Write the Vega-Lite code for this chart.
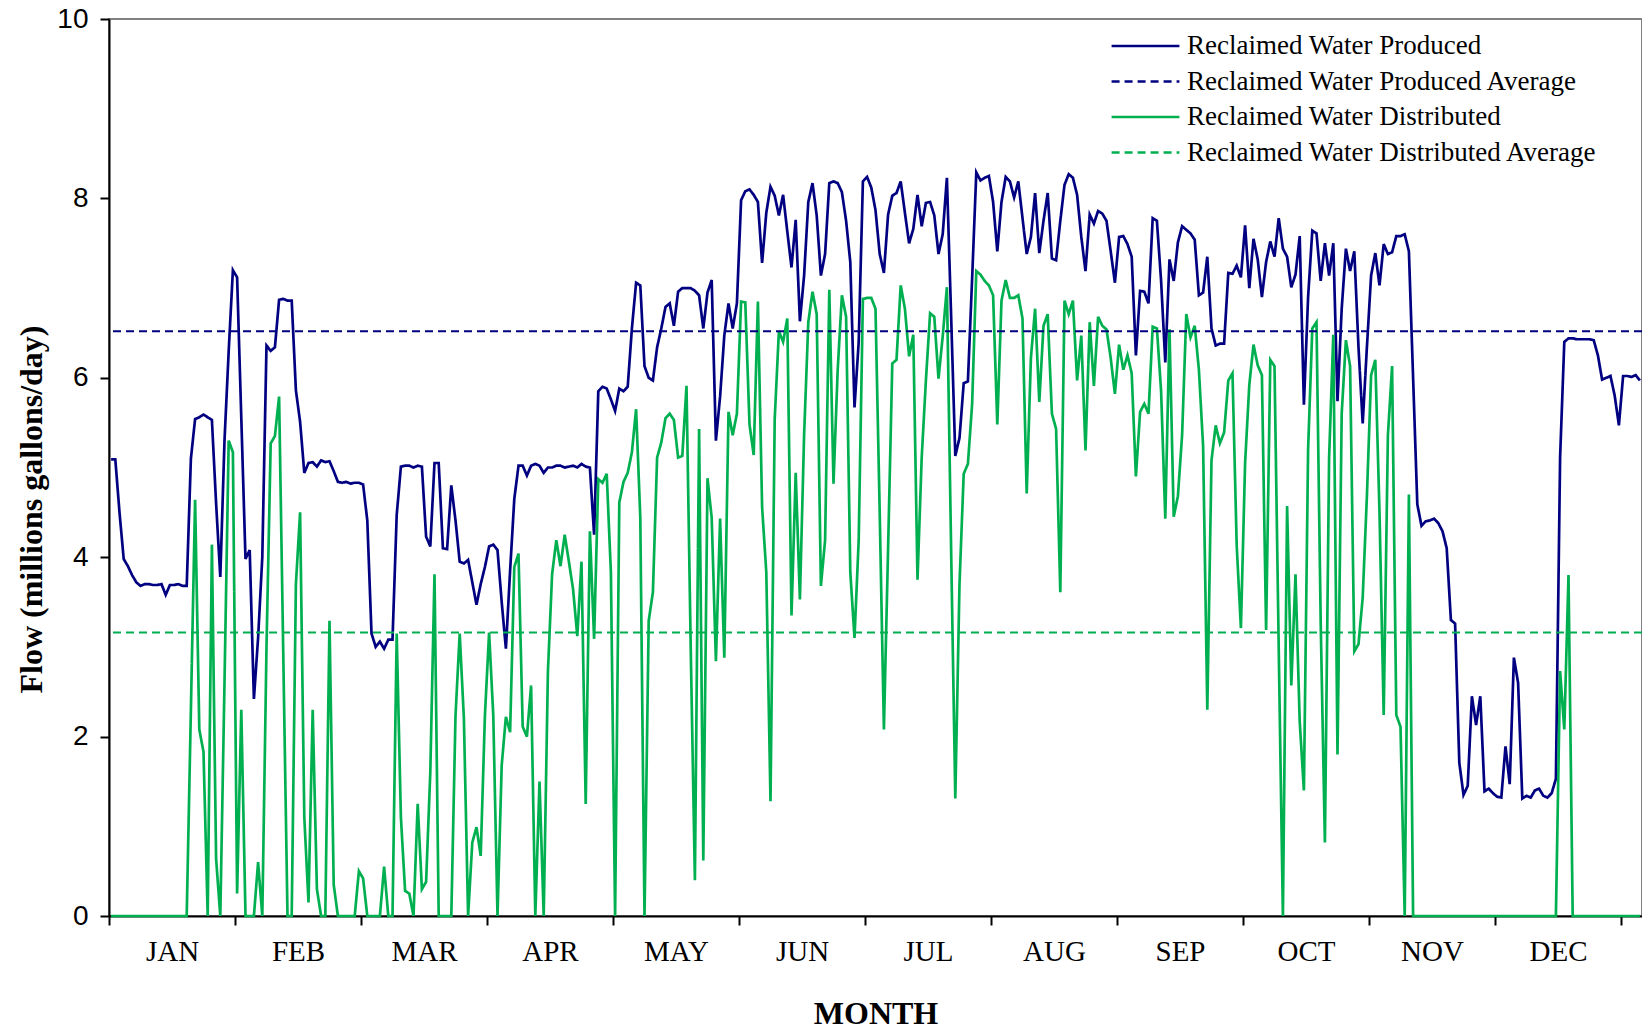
{
"$schema":"https://vega.github.io/schema/vega-lite/v6.json",
"width":1533,"height":897,
"autosize":{"type":"none"},
"padding":{"left":109,"top":19,"right":0,"bottom":115},
"background":"white",
"config":{"view":{"stroke":"#808080","strokeWidth":2},"font":"Liberation Serif"},
"layer":[
{"data":{"values":[
{"d":1,"p":5.09,"g":0},{"d":2,"p":5.09,"g":0},{"d":3,"p":4.5,"g":0},{"d":4,"p":3.98,"g":0},{"d":5,"p":3.9,"g":0},{"d":6,"p":3.8,"g":0},{"d":7,"p":3.72,"g":0},{"d":8,"p":3.68,"g":0},{"d":9,"p":3.7,"g":0},{"d":10,"p":3.7,"g":0},
{"d":11,"p":3.69,"g":0},{"d":12,"p":3.69,"g":0},{"d":13,"p":3.7,"g":0},{"d":14,"p":3.58,"g":0},{"d":15,"p":3.69,"g":0},{"d":16,"p":3.69,"g":0},{"d":17,"p":3.7,"g":0},{"d":18,"p":3.68,"g":0},{"d":19,"p":3.68,"g":0},{"d":20,"p":5.1,"g":2.3},
{"d":21,"p":5.54,"g":4.64},{"d":22,"p":5.56,"g":2.08},{"d":23,"p":5.59,"g":1.83},{"d":24,"p":5.56,"g":0},{"d":25,"p":5.53,"g":4.14},{"d":26,"p":4.6,"g":0.64},{"d":27,"p":3.78,"g":0},{"d":28,"p":5.3,"g":2.6},{"d":29,"p":6.3,"g":5.3},{"d":30,"p":7.2,"g":5.17},
{"d":31,"p":7.12,"g":0.25},{"d":32,"p":5.55,"g":2.3},{"d":33,"p":3.98,"g":0},{"d":34,"p":4.08,"g":0},{"d":35,"p":2.42,"g":0},{"d":36,"p":3.1,"g":0.6},{"d":37,"p":4.0,"g":0},{"d":38,"p":6.36,"g":3.0},{"d":39,"p":6.3,"g":5.27},{"d":40,"p":6.34,"g":5.35},
{"d":41,"p":6.87,"g":5.79},{"d":42,"p":6.88,"g":2.9},{"d":43,"p":6.86,"g":0},{"d":44,"p":6.86,"g":0},{"d":45,"p":5.86,"g":3.7},{"d":46,"p":5.51,"g":4.5},{"d":47,"p":4.94,"g":1.1},{"d":48,"p":5.05,"g":0.15},{"d":49,"p":5.06,"g":2.3},{"d":50,"p":5.01,"g":0.3},
{"d":51,"p":5.08,"g":0},{"d":52,"p":5.06,"g":0},{"d":53,"p":5.07,"g":3.29},{"d":54,"p":4.96,"g":0.35},{"d":55,"p":4.84,"g":0},{"d":56,"p":4.83,"g":0},{"d":57,"p":4.84,"g":0},{"d":58,"p":4.82,"g":0},{"d":59,"p":4.83,"g":0},{"d":60,"p":4.83,"g":0.5},
{"d":61,"p":4.81,"g":0.42},{"d":62,"p":4.41,"g":0},{"d":63,"p":3.15,"g":0},{"d":64,"p":3.0,"g":0},{"d":65,"p":3.06,"g":0},{"d":66,"p":2.98,"g":0.55},{"d":67,"p":3.08,"g":0},{"d":68,"p":3.08,"g":0},{"d":69,"p":4.47,"g":3.15},{"d":70,"p":5.01,"g":1.1},
{"d":71,"p":5.02,"g":0.28},{"d":72,"p":5.02,"g":0.25},{"d":73,"p":5.0,"g":0},{"d":74,"p":5.02,"g":1.25},{"d":75,"p":5.01,"g":0.3},{"d":76,"p":4.23,"g":0.38},{"d":77,"p":4.12,"g":1.6},{"d":78,"p":5.05,"g":3.81},{"d":79,"p":5.05,"g":0},{"d":80,"p":4.1,"g":0},
{"d":81,"p":4.09,"g":0},{"d":82,"p":4.8,"g":0},{"d":83,"p":4.41,"g":2.23},{"d":84,"p":3.95,"g":3.15},{"d":85,"p":3.93,"g":2.2},{"d":86,"p":3.97,"g":0},{"d":87,"p":3.72,"g":0.82},{"d":88,"p":3.47,"g":0.99},{"d":89,"p":3.7,"g":0.67},{"d":90,"p":3.89,"g":2.23},
{"d":91,"p":4.12,"g":3.16},{"d":92,"p":4.14,"g":2.23},{"d":93,"p":4.08,"g":0},{"d":94,"p":3.5,"g":1.68},{"d":95,"p":2.98,"g":2.22},{"d":96,"p":3.85,"g":2.05},{"d":97,"p":4.65,"g":3.89},{"d":98,"p":5.02,"g":4.04},{"d":99,"p":5.02,"g":2.11},{"d":100,"p":4.91,"g":2.0},
{"d":101,"p":5.02,"g":2.57},{"d":102,"p":5.04,"g":0},{"d":103,"p":5.02,"g":1.5},{"d":104,"p":4.94,"g":0},{"d":105,"p":5.0,"g":2.72},{"d":106,"p":5.0,"g":3.81},{"d":107,"p":5.02,"g":4.19},{"d":108,"p":5.02,"g":3.9},{"d":109,"p":5.0,"g":4.25},{"d":110,"p":5.01,"g":3.95},
{"d":111,"p":5.02,"g":3.64},{"d":112,"p":5.0,"g":3.12},{"d":113,"p":5.04,"g":3.95},{"d":114,"p":5.01,"g":1.25},{"d":115,"p":5.0,"g":4.29},{"d":116,"p":4.25,"g":3.09},{"d":117,"p":5.85,"g":4.87},{"d":118,"p":5.9,"g":4.83},{"d":119,"p":5.88,"g":4.93},{"d":120,"p":5.76,"g":3.83},
{"d":121,"p":5.63,"g":0},{"d":122,"p":5.88,"g":4.61},{"d":123,"p":5.85,"g":4.84},{"d":124,"p":5.9,"g":4.94},{"d":125,"p":6.55,"g":5.17},{"d":126,"p":7.06,"g":5.65},{"d":127,"p":7.03,"g":4.44},{"d":128,"p":6.13,"g":0},{"d":129,"p":6.0,"g":3.29},{"d":130,"p":5.97,"g":3.61},
{"d":131,"p":6.34,"g":5.11},{"d":132,"p":6.55,"g":5.28},{"d":133,"p":6.79,"g":5.55},{"d":134,"p":6.83,"g":5.6},{"d":135,"p":6.58,"g":5.53},{"d":136,"p":6.96,"g":5.11},{"d":137,"p":7.0,"g":5.13},{"d":138,"p":7.0,"g":5.91},{"d":139,"p":7.0,"g":3.0},{"d":140,"p":6.97,"g":0.4},
{"d":141,"p":6.92,"g":5.43},{"d":142,"p":6.55,"g":0.62},{"d":143,"p":6.95,"g":4.88},{"d":144,"p":7.09,"g":4.44},{"d":145,"p":5.3,"g":2.84},{"d":146,"p":5.79,"g":4.43},{"d":147,"p":6.47,"g":2.88},{"d":148,"p":6.83,"g":5.62},{"d":149,"p":6.55,"g":5.36},{"d":150,"p":6.83,"g":5.6},
{"d":151,"p":7.98,"g":6.85},{"d":152,"p":8.08,"g":6.84},{"d":153,"p":8.1,"g":5.48},{"d":154,"p":8.04,"g":5.14},{"d":155,"p":7.96,"g":6.85},{"d":156,"p":7.28,"g":4.56},{"d":157,"p":7.84,"g":3.83},{"d":158,"p":8.13,"g":1.28},{"d":159,"p":8.03,"g":5.54},{"d":160,"p":7.81,"g":6.52},
{"d":161,"p":8.04,"g":6.4},{"d":162,"p":7.63,"g":6.66},{"d":163,"p":7.23,"g":3.35},{"d":164,"p":7.76,"g":4.94},{"d":165,"p":6.63,"g":3.53},{"d":166,"p":7.14,"g":5.36},{"d":167,"p":7.96,"g":6.62},{"d":168,"p":8.17,"g":6.96},{"d":169,"p":7.81,"g":6.71},{"d":170,"p":7.14,"g":3.68},
{"d":171,"p":7.38,"g":4.19},{"d":172,"p":8.17,"g":6.98},{"d":173,"p":8.19,"g":4.82},{"d":174,"p":8.17,"g":6.09},{"d":175,"p":8.07,"g":6.92},{"d":176,"p":7.75,"g":6.68},{"d":177,"p":7.29,"g":3.83},{"d":178,"p":5.67,"g":3.1},{"d":179,"p":6.4,"g":4.19},{"d":180,"p":8.19,"g":6.88},
{"d":181,"p":8.24,"g":6.89},{"d":182,"p":8.12,"g":6.89},{"d":183,"p":7.87,"g":6.77},{"d":184,"p":7.38,"g":4.5},{"d":185,"p":7.17,"g":2.08},{"d":186,"p":7.82,"g":4.1},{"d":187,"p":8.03,"g":6.16},{"d":188,"p":8.06,"g":6.2},{"d":189,"p":8.19,"g":7.03},{"d":190,"p":7.84,"g":6.77},
{"d":191,"p":7.5,"g":6.24},{"d":192,"p":7.66,"g":6.48},{"d":193,"p":8.04,"g":3.75},{"d":194,"p":7.69,"g":5.11},{"d":195,"p":7.95,"g":5.97},{"d":196,"p":7.96,"g":6.72},{"d":197,"p":7.81,"g":6.68},{"d":198,"p":7.38,"g":5.99},{"d":199,"p":7.6,"g":6.46},{"d":200,"p":8.23,"g":7.01},
{"d":201,"p":6.7,"g":4.1},{"d":202,"p":5.13,"g":1.31},{"d":203,"p":5.33,"g":3.7},{"d":204,"p":5.94,"g":4.93},{"d":205,"p":5.96,"g":5.04},{"d":206,"p":7.1,"g":5.7},{"d":207,"p":8.29,"g":7.19},{"d":208,"p":8.2,"g":7.15},{"d":209,"p":8.23,"g":7.08},{"d":210,"p":8.25,"g":7.03},
{"d":211,"p":7.96,"g":6.92},{"d":212,"p":7.41,"g":5.48},{"d":213,"p":7.96,"g":6.86},{"d":214,"p":8.24,"g":7.09},{"d":215,"p":8.19,"g":6.89},{"d":216,"p":8.01,"g":6.89},{"d":217,"p":8.19,"g":6.92},{"d":218,"p":7.78,"g":6.66},{"d":219,"p":7.38,"g":4.71},{"d":220,"p":7.57,"g":6.22},
{"d":221,"p":8.06,"g":6.77},{"d":222,"p":7.39,"g":5.73},{"d":223,"p":7.75,"g":6.58},{"d":224,"p":8.06,"g":6.71},{"d":225,"p":7.33,"g":5.6},{"d":226,"p":7.31,"g":5.43},{"d":227,"p":7.75,"g":3.61},{"d":228,"p":8.15,"g":6.86},{"d":229,"p":8.27,"g":6.71},{"d":230,"p":8.23,"g":6.86},
{"d":231,"p":8.04,"g":5.97},{"d":232,"p":7.57,"g":6.47},{"d":233,"p":7.19,"g":5.19},{"d":234,"p":7.82,"g":6.62},{"d":235,"p":7.72,"g":5.91},{"d":236,"p":7.86,"g":6.68},{"d":237,"p":7.83,"g":6.58},{"d":238,"p":7.75,"g":6.54},{"d":239,"p":7.41,"g":6.22},{"d":240,"p":7.06,"g":5.82},
{"d":241,"p":7.57,"g":6.37},{"d":242,"p":7.58,"g":6.09},{"d":243,"p":7.49,"g":6.25},{"d":244,"p":7.35,"g":6.05},{"d":245,"p":6.25,"g":4.9},{"d":246,"p":6.97,"g":5.62},{"d":247,"p":6.96,"g":5.71},{"d":248,"p":6.83,"g":5.6},{"d":249,"p":7.78,"g":6.57},{"d":250,"p":7.75,"g":6.55},
{"d":251,"p":7.08,"g":5.85},{"d":252,"p":6.17,"g":4.43},{"d":253,"p":7.32,"g":6.54},{"d":254,"p":7.08,"g":4.45},{"d":255,"p":7.51,"g":4.68},{"d":256,"p":7.69,"g":5.36},{"d":257,"p":7.65,"g":6.71},{"d":258,"p":7.61,"g":6.45},{"d":259,"p":7.54,"g":6.58},{"d":260,"p":6.92,"g":6.09},
{"d":261,"p":6.95,"g":5.24},{"d":262,"p":7.35,"g":2.3},{"d":263,"p":6.55,"g":5.08},{"d":264,"p":6.36,"g":5.47},{"d":265,"p":6.38,"g":5.27},{"d":266,"p":6.38,"g":5.39},{"d":267,"p":7.17,"g":5.97},{"d":268,"p":7.16,"g":6.05},{"d":269,"p":7.25,"g":4.13},{"d":270,"p":7.12,"g":3.21},
{"d":271,"p":7.7,"g":5.05},{"d":272,"p":7.0,"g":5.92},{"d":273,"p":7.55,"g":6.37},{"d":274,"p":7.32,"g":6.14},{"d":275,"p":6.9,"g":6.03},{"d":276,"p":7.29,"g":3.19},{"d":277,"p":7.52,"g":6.2},{"d":278,"p":7.35,"g":6.13},{"d":279,"p":7.78,"g":3.0},{"d":280,"p":7.44,"g":0},
{"d":281,"p":7.35,"g":4.57},{"d":282,"p":7.01,"g":2.57},{"d":283,"p":7.15,"g":3.81},{"d":284,"p":7.58,"g":2.17},{"d":285,"p":5.7,"g":1.4},{"d":286,"p":6.9,"g":5.2},{"d":287,"p":7.64,"g":6.55},{"d":288,"p":7.61,"g":6.62},{"d":289,"p":7.08,"g":3.27},{"d":290,"p":7.5,"g":0.82},
{"d":291,"p":7.14,"g":5.11},{"d":292,"p":7.5,"g":6.48},{"d":293,"p":5.74,"g":1.8},{"d":294,"p":6.77,"g":5.6},{"d":295,"p":7.44,"g":6.42},{"d":296,"p":7.19,"g":6.13},{"d":297,"p":7.41,"g":2.95},{"d":298,"p":6.34,"g":3.03},{"d":299,"p":5.49,"g":3.55},{"d":300,"p":6.34,"g":4.68},
{"d":301,"p":7.14,"g":6.03},{"d":302,"p":7.39,"g":6.2},{"d":303,"p":7.03,"g":4.5},{"d":304,"p":7.49,"g":2.24},{"d":305,"p":7.38,"g":5.36},{"d":306,"p":7.4,"g":6.13},{"d":307,"p":7.58,"g":2.24},{"d":308,"p":7.58,"g":2.11},{"d":309,"p":7.6,"g":0},{"d":310,"p":7.41,"g":4.7},
{"d":311,"p":6.0,"g":0},{"d":312,"p":4.59,"g":0},{"d":313,"p":4.35,"g":0},{"d":314,"p":4.4,"g":0},{"d":315,"p":4.41,"g":0},{"d":316,"p":4.43,"g":0},{"d":317,"p":4.38,"g":0},{"d":318,"p":4.29,"g":0},{"d":319,"p":4.1,"g":0},{"d":320,"p":3.3,"g":0},
{"d":321,"p":3.26,"g":0},{"d":322,"p":1.71,"g":0},{"d":323,"p":1.35,"g":0},{"d":324,"p":1.45,"g":0},{"d":325,"p":2.45,"g":0},{"d":326,"p":2.13,"g":0},{"d":327,"p":2.45,"g":0},{"d":328,"p":1.39,"g":0},{"d":329,"p":1.42,"g":0},{"d":330,"p":1.37,"g":0},
{"d":331,"p":1.33,"g":0},{"d":332,"p":1.32,"g":0},{"d":333,"p":1.89,"g":0},{"d":334,"p":1.47,"g":0},{"d":335,"p":2.88,"g":0},{"d":336,"p":2.6,"g":0},{"d":337,"p":1.31,"g":0},{"d":338,"p":1.34,"g":0},{"d":339,"p":1.32,"g":0},{"d":340,"p":1.4,"g":0},
{"d":341,"p":1.42,"g":0},{"d":342,"p":1.34,"g":0},{"d":343,"p":1.32,"g":0},{"d":344,"p":1.37,"g":0},{"d":345,"p":1.53,"g":0},{"d":346,"p":5.11,"g":2.73},{"d":347,"p":6.4,"g":2.08},{"d":348,"p":6.44,"g":3.8},{"d":349,"p":6.44,"g":0},{"d":350,"p":6.43,"g":0},
{"d":351,"p":6.43,"g":0},{"d":352,"p":6.43,"g":0},{"d":353,"p":6.43,"g":0},{"d":354,"p":6.42,"g":0},{"d":355,"p":6.25,"g":0},{"d":356,"p":5.98,"g":0},{"d":357,"p":6.0,"g":0},{"d":358,"p":6.02,"g":0},{"d":359,"p":5.8,"g":0},{"d":360,"p":5.47,"g":0},
{"d":361,"p":6.02,"g":0},{"d":362,"p":6.02,"g":0},{"d":363,"p":6.01,"g":0},{"d":364,"p":6.03,"g":0},{"d":365,"p":5.97,"g":0}
]},
"transform":[{"fold":["p","g"],"as":["key","flow"]}],
"mark":{"type":"line","strokeWidth":2.7,"strokeJoin":"miter"},
"encoding":{
"x":{"field":"d","type":"quantitative","scale":{"domain":[0.5,365.5],"nice":false,"zero":false},
"axis":{"title":"MONTH","values":[0.5,30.5,60.5,90.5,120.5,150.5,180.5,210.5,240.5,270.5,300.5,330.5,360.5],
"labelExpr":"datum.value < 350 ? ['JAN','FEB','MAR','APR','MAY','JUN','JUL','AUG','SEP','OCT','NOV','DEC'][floor(datum.value/30)] : ''",
"labelOffset":63,"labelFlush":false,"labelOverlap":false,"grid":false,
"domainColor":"black","domainWidth":2,"tickColor":"black","tickWidth":2,"tickSize":9,
"labelFont":"Liberation Serif","labelFontSize":29,"labelColor":"black","labelPadding":12,
"titleFont":"Liberation Serif","titleFontSize":32,"titleFontWeight":"bold","titleColor":"black","titlePadding":32}},
"y":{"field":"flow","type":"quantitative","scale":{"domain":[0,10],"nice":false},
"axis":{"title":"Flow (millions gallons/day)","values":[0,2,4,6,8,10],"format":"d","grid":false,
"domainColor":"black","domainWidth":2,"tickColor":"black","tickWidth":2,"tickSize":9,
"labelFont":"Liberation Sans","labelFontSize":28,"labelColor":"black","labelPadding":12,
"titleFont":"Liberation Serif","titleFontSize":32,"titleFontWeight":"bold","titleColor":"black","titlePadding":8,"titleY":490}},
"color":{"field":"key","type":"nominal","scale":{"domain":["p","pa","g","ga"],"range":["#000080","#000080","#00B050","#00B050"]},
"legend":{"title":null,"orient":"none","legendX":1001,"legendY":10,"symbolType":"stroke","symbolSize":4600,"symbolStrokeWidth":2.5,
"labelFont":"Liberation Serif","labelFontSize":27,"labelColor":"black","labelOffset":6,"rowPadding":1.5,"clipHeight":34,"labelLimit":700,
"labelExpr":"datum.label == 'p' ? 'Reclaimed Water Produced' : datum.label == 'pa' ? 'Reclaimed Water Produced Average' : datum.label == 'g' ? 'Reclaimed Water Distributed' : 'Reclaimed Water Distributed Average'"}},
"strokeDash":{"field":"key","type":"nominal","scale":{"domain":["p","pa","g","ga"],"range":[[1,0],[8,5],[1,0],[8,5]]},
"legend":{"title":null,"orient":"none","legendX":1001,"legendY":10,"symbolType":"stroke","symbolSize":4600,"symbolStrokeWidth":2.5,
"labelFont":"Liberation Serif","labelFontSize":27,"labelColor":"black","labelOffset":6,"rowPadding":1.5,"clipHeight":34,"labelLimit":700,
"labelExpr":"datum.label == 'p' ? 'Reclaimed Water Produced' : datum.label == 'pa' ? 'Reclaimed Water Produced Average' : datum.label == 'g' ? 'Reclaimed Water Distributed' : 'Reclaimed Water Distributed Average'"}}
}},
{"data":{"values":[{"key":"pa","flow":6.52},{"key":"ga","flow":3.16}]},
"mark":{"type":"rule","strokeWidth":2},
"encoding":{"y":{"field":"flow","type":"quantitative"},"color":{"field":"key","type":"nominal"},"strokeDash":{"field":"key","type":"nominal"}}}
]
}
